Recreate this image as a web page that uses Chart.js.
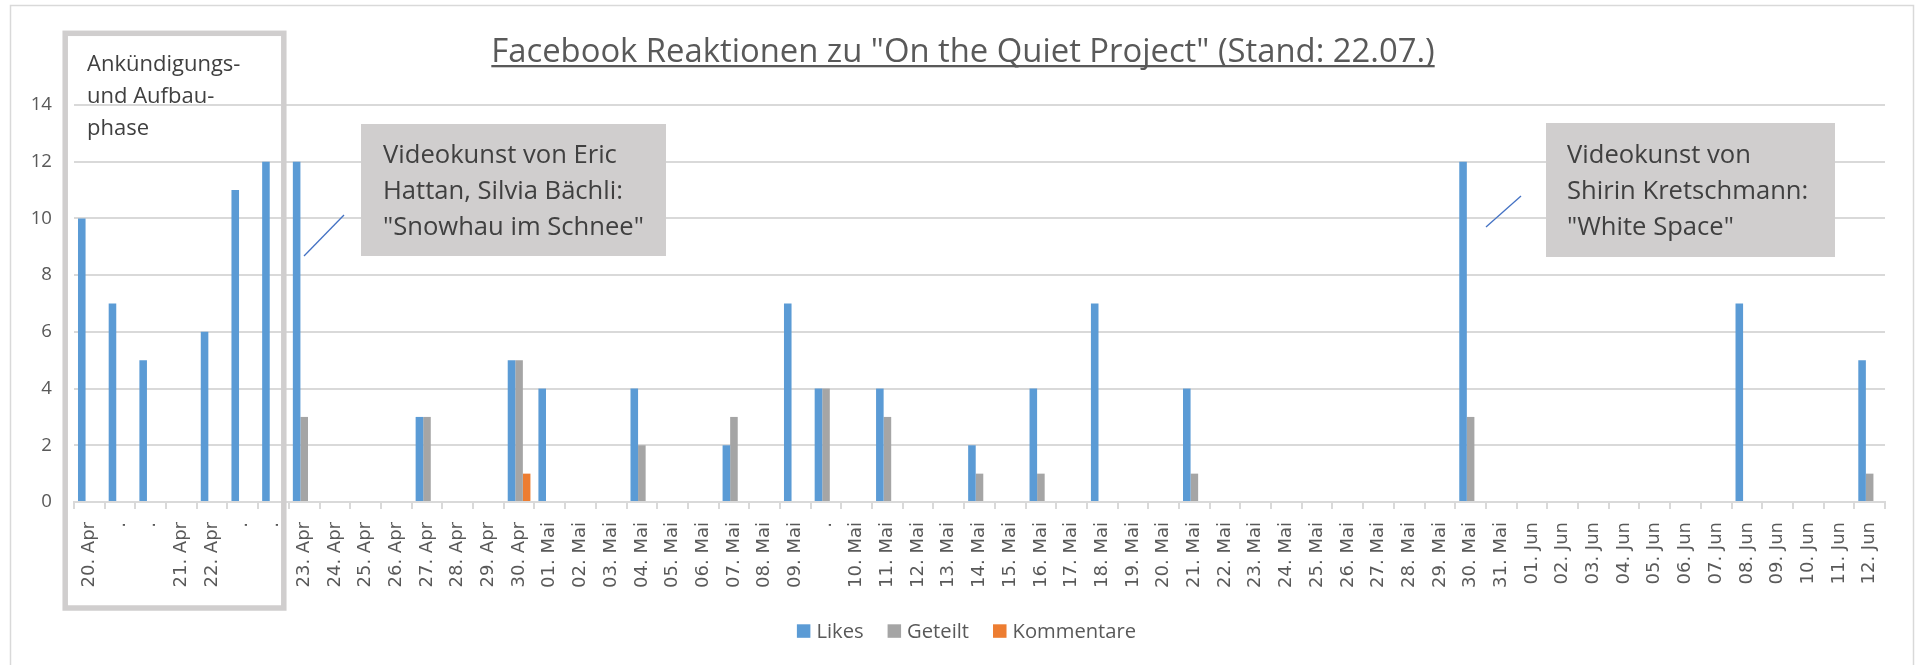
<!DOCTYPE html>
<html lang="de">
<head>
<meta charset="utf-8">
<title>Facebook Reaktionen zu "On the Quiet Project"</title>
<script src="https://cdn.jsdelivr.net/npm/chart.js@4.4.1/dist/chart.umd.min.js"></script>
<style>
  html, body { margin: 0; padding: 0; background: #ffffff; }
  #wrap { width: 1923px; height: 665px; }
</style>
</head>
<body>
<div id="wrap"><canvas id="chart" width="1923" height="665"></canvas></div>
<script>
// Tage (x-Achse); "." = weiterer Post am selben Tag
var categories = [
    '20. Apr', '.', '.', '21. Apr', '22. Apr', '.', '.', '23. Apr', '24. Apr', '25. Apr',
    '26. Apr', '27. Apr', '28. Apr', '29. Apr', '30. Apr', '01. Mai', '02. Mai', '03. Mai', '04. Mai', '05. Mai',
    '06. Mai', '07. Mai', '08. Mai', '09. Mai', '.', '10. Mai', '11. Mai', '12. Mai', '13. Mai', '14. Mai',
    '15. Mai', '16. Mai', '17. Mai', '18. Mai', '19. Mai', '20. Mai', '21. Mai', '22. Mai', '23. Mai', '24. Mai',
    '25. Mai', '26. Mai', '27. Mai', '28. Mai', '29. Mai', '30. Mai', '31. Mai', '01. Jun', '02. Jun', '03. Jun',
    '04. Jun', '05. Jun', '06. Jun', '07. Jun', '08. Jun', '09. Jun', '10. Jun', '11. Jun', '12. Jun'
];

var likes = [
    10, 7, 5, 0, 6, 11, 12, 12, 0, 0,
    0, 3, 0, 0, 5, 4, 0, 0, 4, 0,
    0, 2, 0, 7, 4, 0, 4, 0, 0, 2,
    0, 4, 0, 7, 0, 0, 4, 0, 0, 0,
    0, 0, 0, 0, 0, 12, 0, 0, 0, 0,
    0, 0, 0, 0, 7, 0, 0, 0, 5
];

var geteilt = [
    0, 0, 0, 0, 0, 0, 0, 3, 0, 0,
    0, 3, 0, 0, 5, 0, 0, 0, 2, 0,
    0, 3, 0, 0, 4, 0, 3, 0, 0, 1,
    0, 1, 0, 0, 0, 0, 1, 0, 0, 0,
    0, 0, 0, 0, 0, 3, 0, 0, 0, 0,
    0, 0, 0, 0, 0, 0, 0, 0, 1
];

var kommentare = [
    0, 0, 0, 0, 0, 0, 0, 0, 0, 0,
    0, 0, 0, 0, 1, 0, 0, 0, 0, 0,
    0, 0, 0, 0, 0, 0, 0, 0, 0, 0,
    0, 0, 0, 0, 0, 0, 0, 0, 0, 0,
    0, 0, 0, 0, 0, 0, 0, 0, 0, 0,
    0, 0, 0, 0, 0, 0, 0, 0, 0
];

var seriesNames = ['Likes', 'Geteilt', 'Kommentare'];
var yTicks = [0, 2, 4, 6, 8, 10, 12, 14];

var titleText = 'Facebook Reaktionen zu "On the Quiet Project" (Stand: 22.07.)';
var phaseLines = ['Ankündigungs-', 'und Aufbau-', 'phase'];
var callout1Lines = ['Videokunst von Eric', 'Hattan, Silvia Bächli:', '"Snowhau im Schnee"'];
var callout2Lines = ['Videokunst von', 'Shirin Kretschmann:', '"White Space"'];

var COLORS = ['#5B9BD5', '#A5A5A5', '#ED7D31'];
var TEXT_GREY = '#595959';
var TEXT_DARK = '#404040';
var LINE_GREY = '#D9D9D9';
var FONT = '"Open Sans"';

// Rahmen, Titel, Hinweisboxen und Legende im Excel-Stil
var decoPlugin = {
    id: 'excelDeko',
    beforeDraw: function (chart) {
        var ctx = chart.ctx;
        ctx.save();
        ctx.fillStyle = '#ffffff';
        ctx.fillRect(0, 0, chart.width, chart.height);
        ctx.strokeStyle = LINE_GREY;
        ctx.lineWidth = 1.5;
        ctx.strokeRect(10.5, 5.5, 1903, 720);
        ctx.restore();
    },
    afterDraw: function (chart) {
        var ctx = chart.ctx;
        ctx.save();

        // Titel, unterstrichen
        ctx.font = '32.8px ' + FONT;
        ctx.fillStyle = TEXT_GREY;
        ctx.textAlign = 'center';
        ctx.textBaseline = 'alphabetic';
        ctx.fillText(titleText, 963, 61.5);
        var tw = ctx.measureText(titleText).width;
        ctx.fillRect(963 - tw / 2, 65, tw, 2.3);

        // Box "Ankündigungs- und Aufbauphase"
        ctx.strokeStyle = '#D0CECE';
        ctx.lineWidth = 5.5;
        ctx.strokeRect(65.2, 33.3, 218.6, 574.7);
        ctx.font = '22px ' + FONT;
        ctx.fillStyle = TEXT_DARK;
        ctx.textAlign = 'left';
        [70.7, 103.3, 135].forEach(function (y, i) {
            ctx.fillText(phaseLines[i], 87, y);
        });

        // Callouts
        function callout(box, lines, textX, leader) {
            ctx.fillStyle = '#D0CECE';
            ctx.fillRect(box[0], box[1], box[2], box[3]);
            ctx.font = '25.6px ' + FONT;
            ctx.fillStyle = TEXT_DARK;
            [163, 199.3, 235].forEach(function (y, i) {
                ctx.fillText(lines[i], textX, y);
            });
            ctx.strokeStyle = '#4472C4';
            ctx.lineWidth = 1.3;
            ctx.beginPath();
            ctx.moveTo(leader[0], leader[1]);
            ctx.lineTo(leader[2], leader[3]);
            ctx.stroke();
        }
        callout([361, 124, 305, 132], callout1Lines, 383, [304, 256, 344, 215]);
        callout([1546, 123, 289, 134], callout2Lines, 1567, [1486, 227, 1521, 196]);

        // Legende
        ctx.font = '20.2px ' + FONT;
        var items = chart.data.datasets.map(function (ds) {
            return { label: ds.label, color: ds.backgroundColor, w: ctx.measureText(ds.label).width };
        });
        var box = 13.5, gap = 6, itemGap = 24;
        var total = items.reduce(function (s, it) { return s + box + gap + it.w; }, 0) + itemGap * (items.length - 1);
        var x = 966.5 - total / 2;
        items.forEach(function (it) {
            ctx.fillStyle = it.color;
            ctx.fillRect(x, 624.3, box, box);
            ctx.fillStyle = TEXT_GREY;
            ctx.fillText(it.label, x + box + gap, 637.7);
            x += box + gap + it.w + itemGap;
        });

        ctx.restore();
    }
};

var ctx = document.getElementById('chart').getContext('2d');
new Chart(ctx, {
    type: 'bar',
    data: {
        labels: categories,
        datasets: [
            { label: seriesNames[0], data: likes,      backgroundColor: COLORS[0] },
            { label: seriesNames[1], data: geteilt,    backgroundColor: COLORS[1] },
            { label: seriesNames[2], data: kommentare, backgroundColor: COLORS[2] }
        ]
    },
    options: {
        responsive: false,
        animation: false,
        devicePixelRatio: 1,
        layout: { padding: { top: 105, right: 38, bottom: 63, left: 0 } },
        datasets: { bar: { categoryPercentage: 0.74, barPercentage: 1.0 } },
        plugins: {
            legend: { display: false },
            title: { display: false },
            tooltip: { enabled: false }
        },
        scales: {
            x: {
                offset: true,
                grid: { offset: true, drawOnChartArea: false, drawTicks: true, tickLength: 7, color: LINE_GREY, lineWidth: 2 },
                border: { color: LINE_GREY, width: 2 },
                ticks: {
                    autoSkip: false, minRotation: 90, maxRotation: 90, padding: 13,
                    color: TEXT_GREY, font: { family: 'DejaVu Sans', size: 18 }
                },
                afterFit: function (s) { s.height = 100; }
            },
            y: {
                min: 0, max: 14,
                afterBuildTicks: function (s) {
                    s.ticks = yTicks.map(function (v) { return { value: v }; });
                },
                ticks: { padding: 22, color: TEXT_GREY, font: { family: 'Open Sans', size: 18.6 } },
                grid: { color: LINE_GREY, lineWidth: 2, drawTicks: false },
                border: { display: false },
                afterFit: function (s) { s.width = 74; }
            }
        }
    },
    plugins: [decoPlugin]
});
</script>
</body>
</html>
